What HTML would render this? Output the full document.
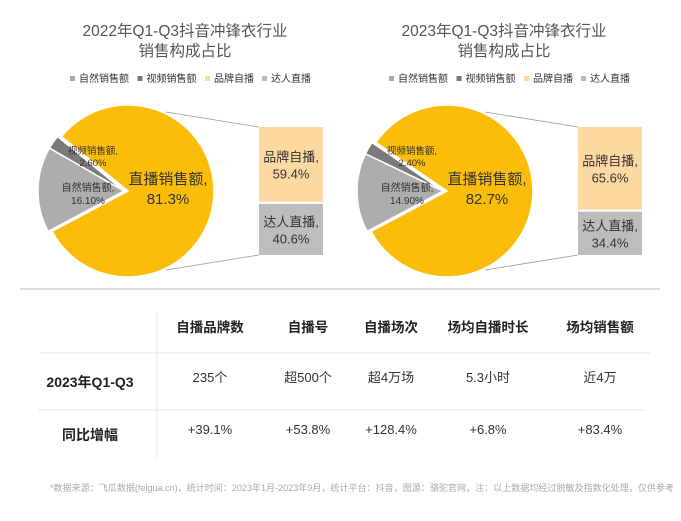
<!DOCTYPE html>
<html><head><meta charset="utf-8"><style>
body{margin:0;background:#fff;}
svg{display:block;font-family:"Liberation Sans","Noto Sans CJK SC",sans-serif;}
</style></head><body>
<svg id="s" width="681" height="521" viewBox="0 0 681 521">
<g id="charts"></g>
<line x1="20" y1="289" x2="660" y2="289" stroke="#bbb" stroke-width="1"/>
<g id="table">
<line x1="157" y1="312" x2="157" y2="458" stroke="#e4e4e4"/>
<line x1="40" y1="353" x2="650" y2="353" stroke="#e4e4e4"/>
<line x1="38" y1="410" x2="645" y2="410" stroke="#e4e4e4"/>
<text x="90" y="387" text-anchor="middle" font-size="14" font-weight="bold" fill="#222">2023年Q1-Q3</text>
<text x="90" y="440" text-anchor="middle" font-size="14" font-weight="bold" fill="#222">同比增幅</text>
</g>
<text x="50" y="491" font-size="9.2" fill="#aaa" textLength="624" lengthAdjust="spacingAndGlyphs">*数据来源：飞瓜数据(feigua.cn)，统计时间：2023年1月-2023年9月，统计平台：抖音，图源：骆驼官网，注：以上数据均经过脱敏及指数化处理，仅供参考</text>
</svg>
<script>
const NS="http://www.w3.org/2000/svg";
const years=["2022","2023"];
const naturalPct=[16.10,14.90];
const videoPct=[2.60,2.40];
const livePct=[81.3,82.7];
const brandPct=[59.4,65.6];
const kolPct=[40.6,34.4];
const headers=["自播品牌数","自播号","自播场次","场均自播时长","场均销售额"];
const row2023=["235个","超500个","超4万场","5.3小时","近4万"];
const rowYoy=["+39.1%","+53.8%","+128.4%","+6.8%","+83.4%"];

function mk(tag,attrs,parent,text){const e=document.createElementNS(NS,tag);for(const k in attrs)e.setAttribute(k,attrs[k]);if(text!==undefined)e.textContent=text;parent.appendChild(e);return e;}
function pt(cx,cy,r,a){const t=a*Math.PI/180;return [cx+r*Math.cos(t),cy+r*Math.sin(t)];}
function arc(cx,cy,r,a0,a1){const p0=pt(cx,cy,r,a0),p1=pt(cx,cy,r,a1);const large=(a1-a0)>180?1:0;return `M${cx},${cy}L${p0[0]},${p0[1]}A${r},${r} 0 ${large} 1 ${p1[0]},${p1[1]}Z`;}
const charts=document.getElementById('charts');
const ox=[0,319];
years.forEach((y,i)=>{
  const g=mk('g',{},charts);
  
  
  const dx=ox[i];
  const cx=128+dx,cy=191,r=86;
  const t1=mk('text',{x:185+dx,y:36,'text-anchor':'middle','font-size':15.5,fill:'#555'},g,y+"年Q1-Q3抖音冲锋衣行业");
  
  
  const t2=mk('text',{x:185+dx,y:56,'text-anchor':'middle','font-size':15.5,fill:'#555'},g,"销售构成占比");
  
  
  const leg=[["自然销售额","#aaa"],["视频销售额","#777"],["品牌自播","#fbd9a0"],["达人直播","#bbb"]];
  let lx=70+dx;
  leg.forEach(([n,c])=>{
    const lg=mk('g',{},g);
    
    
    mk('rect',{x:lx,y:76,width:5,height:5,fill:c},lg);
    mk('text',{x:lx+9,y:82,'font-size':10,fill:'#333'},lg,n);
    lx+=n.length*10.5+15;
  });
  const natDeg=naturalPct[i]*3.6, vidDeg=videoPct[i]*3.6, liveDeg=livePct[i]*3.6;
  const a0=152, a1=a0+natDeg, a2=a1+vidDeg;
  const ex=-4, ey=0;
  const s1=mk('path',{d:arc(cx+ex,cy+ey,r,a0,a1),fill:'#adadad',stroke:'#fff','stroke-width':1.5},g);
  
  
  const s2=mk('path',{d:arc(cx+ex,cy+ey,r,a1,a2),fill:'#7a7a7a',stroke:'#fff','stroke-width':1.5},g);
  
  
  const s3=mk('path',{d:arc(cx,cy,r,a2,a2+liveDeg),fill:'#fbbd08',stroke:'#fff','stroke-width':1.5},g);
  
  
  const lt=mk('text',{x:cx+40,y:cy-7,'text-anchor':'middle','font-size':15,fill:'#333'},g,"直播销售额,");
  
  
  mk('text',{x:cx+40,y:cy+13,'text-anchor':'middle','font-size':15,fill:'#333'},g,livePct[i].toFixed(1)+"%");
  const nl=mk('text',{x:cx-40,y:cy,'text-anchor':'middle','font-size':10,fill:'#333'},g,"自然销售额,");
  
  
  mk('text',{x:cx-40,y:cy+13,'text-anchor':'middle','font-size':10,fill:'#333'},g,naturalPct[i].toFixed(2)+"%");
  const vl=mk('text',{x:cx-35,y:cy-37,'text-anchor':'middle','font-size':9.5,fill:'#333'},g,"视频销售额,");
  
  
  mk('text',{x:cx-35,y:cy-25,'text-anchor':'middle','font-size':9.5,fill:'#333'},g,videoPct[i].toFixed(2)+"%");
  const bx=259+dx,bw=64,bt=127,bb=255,bh=bb-bt-2;
  const hY=bh*brandPct[i]/100, hG=bh*kolPct[i]/100;
  mk('line',{x1:cx+38,y1:cy-r+7,x2:bx,y2:bt,stroke:'#999','stroke-width':0.8},g);
  mk('line',{x1:cx+38,y1:cy+r-7,x2:bx,y2:bb,stroke:'#999','stroke-width':0.8},g);
  const b1=mk('rect',{x:bx,y:bt,width:bw,height:hY,fill:'#fcd9a1'},g);
  
  
  const b2=mk('rect',{x:bx,y:bt+hY+2,width:bw,height:hG,fill:'#bdbdbd'},g);
  
  
  const my=bt+hY/2, gy=bt+hY+2+hG/2;
  mk('text',{x:bx+bw/2,y:my-3,'text-anchor':'middle','font-size':13,fill:'#333'},g,"品牌自播,");
  mk('text',{x:bx+bw/2,y:my+14,'text-anchor':'middle','font-size':13,fill:'#333'},g,brandPct[i].toFixed(1)+"%");
  mk('text',{x:bx+bw/2,y:gy-3,'text-anchor':'middle','font-size':13,fill:'#333'},g,"达人直播,");
  mk('text',{x:bx+bw/2,y:gy+14,'text-anchor':'middle','font-size':13,fill:'#333'},g,kolPct[i].toFixed(1)+"%");
});
const tbl=document.getElementById('table');
const colX=[210,308,391,488,600];
headers.forEach((h,j)=>{
  const t=mk('text',{x:colX[j],y:332,'text-anchor':'middle','font-size':13.5,'font-weight':'bold',fill:'#222'},tbl,h);
  
  
  const v=mk('text',{x:colX[j],y:382,'text-anchor':'middle','font-size':13,fill:'#333'},tbl,row2023[j]);
  
  
  const w=mk('text',{x:colX[j],y:434,'text-anchor':'middle','font-size':13,fill:'#333'},tbl,rowYoy[j]);
  
  
});
</script>
</body></html>
